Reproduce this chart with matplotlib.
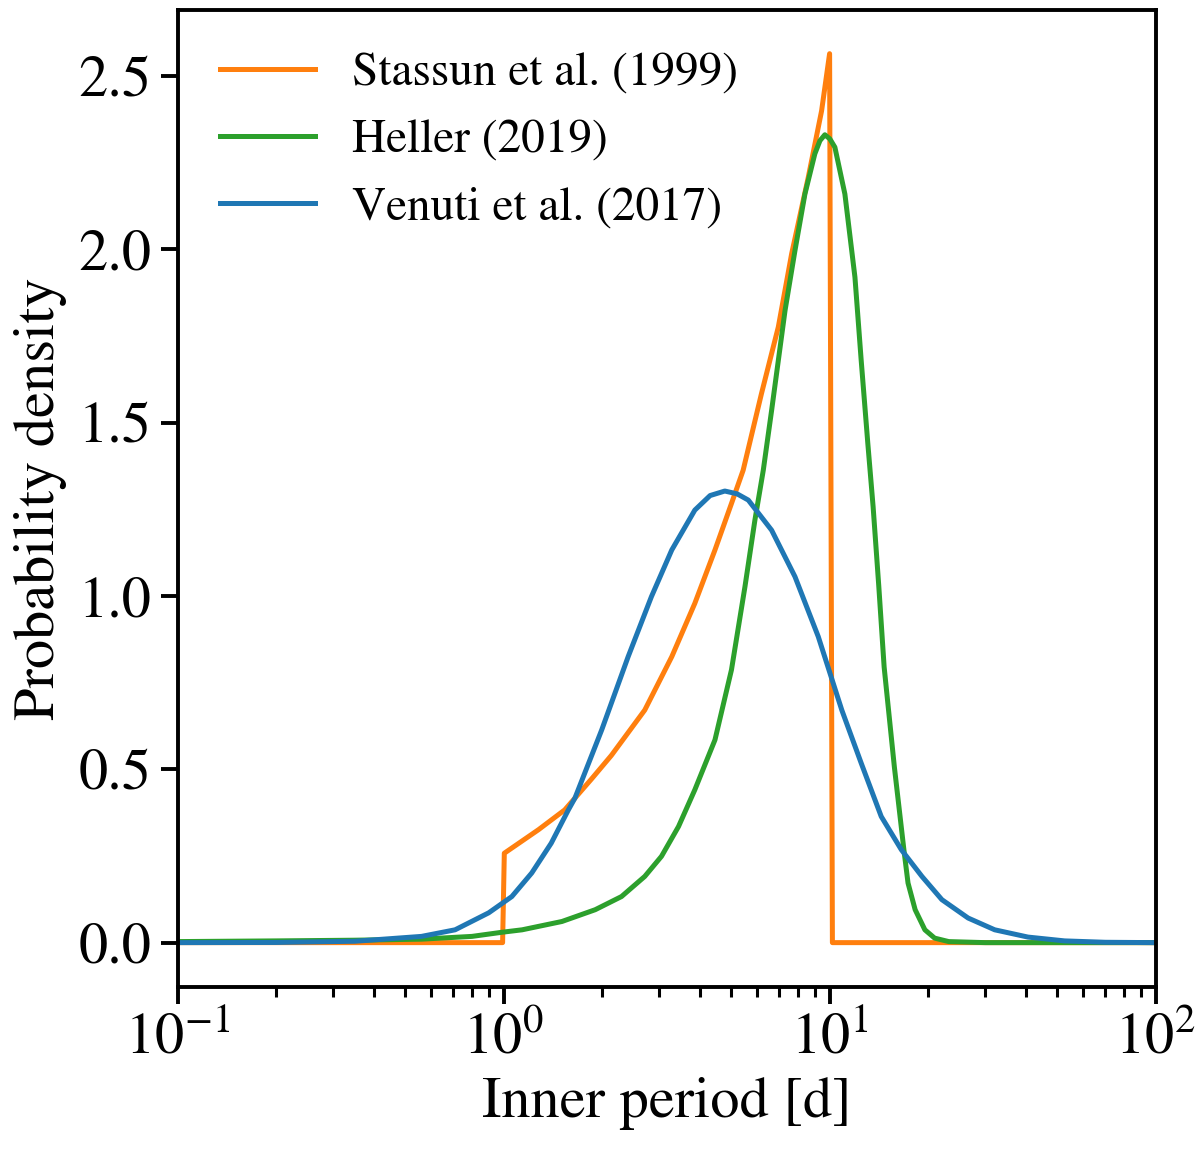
import matplotlib
matplotlib.use("Agg")
import matplotlib.pyplot as plt

plt.rcParams['font.family'] = ['STIXGeneral', 'DejaVu Serif']
plt.rcParams['mathtext.fontset'] = 'stix'

# Stassun et al. (1999)
stassun_p = [0.1, 0.993, 1.005, 1.28, 1.54, 1.655, 1.86, 2.14, 2.71, 3.28, 3.86,
             4.45, 5.0, 5.43, 6.18, 6.96, 7.65, 8.60, 9.45, 10.0, 10.2, 100.0]
stassun_y = [0.0, 0.0, 0.258, 0.326, 0.383, 0.417, 0.472, 0.540, 0.671, 0.825, 0.979,
             1.133, 1.267, 1.363, 1.584, 1.776, 1.988, 2.208, 2.40, 2.565, 0.0, 0.0]

# Heller (2019)
heller_p = [0.1, 0.2, 0.35, 0.56, 0.8, 0.99, 1.14, 1.51, 1.91, 2.30, 2.71, 3.05,
            3.44, 3.86, 4.45, 5.0, 5.5, 5.9, 6.26, 6.64, 7.30, 7.83, 8.40, 9.01,
            9.34, 9.67, 10.02, 10.38, 11.14, 11.96, 12.5, 13.1, 13.6, 14.15, 14.7,
            15.8, 16.9, 17.4, 18.3, 19.6, 21.0, 23.2, 30.0, 100.0]
heller_y = [0.003, 0.005, 0.007, 0.010, 0.018, 0.030, 0.037, 0.061, 0.095, 0.133,
            0.191, 0.249, 0.335, 0.441, 0.585, 0.787, 1.027, 1.219, 1.363, 1.536,
            1.824, 1.997, 2.160, 2.276, 2.314, 2.331, 2.319, 2.295, 2.160, 1.920,
            1.680, 1.440, 1.257, 1.03, 0.795, 0.507, 0.268, 0.172, 0.095, 0.037,
            0.013, 0.003, 0.0, 0.0]

# Venuti et al. (2017)
venuti_p = [0.1, 0.2, 0.35, 0.56, 0.71, 0.90, 1.06, 1.22, 1.40, 1.58, 1.655, 2.0,
            2.41, 2.84, 3.28, 3.86, 4.3, 4.77, 5.2, 5.63, 6.64, 7.83, 9.23, 10.9,
            12.5, 14.4, 16.6, 19.2, 22.1, 26.6, 32.1, 40.6, 52.6, 70.0, 100.0]
venuti_y = [0.0, 0.0005, 0.004, 0.018, 0.037, 0.086, 0.133, 0.201, 0.287, 0.383,
            0.417, 0.614, 0.825, 0.998, 1.133, 1.248, 1.290, 1.303, 1.295, 1.277,
            1.190, 1.056, 0.883, 0.671, 0.518, 0.364, 0.268, 0.191, 0.124, 0.071,
            0.037, 0.016, 0.005, 0.001, 0.0]

fig = plt.figure(figsize=(6, 5.745), dpi=200)
ax = fig.add_axes([0.148, 0.141, 0.815, 0.850])

ax.plot(stassun_p, stassun_y, color='tab:orange', lw=1.8, label='Stassun et al. (1999)')
ax.plot(heller_p, heller_y, color='tab:green', lw=1.8, label='Heller (2019)')
ax.plot(venuti_p, venuti_y, color='tab:blue', lw=1.8, label='Venuti et al. (2017)')

ax.set_xscale('log')
ax.set_xlim(0.1, 100)
ax.set_ylim(-0.128, 2.69)
ax.set_yticks([0.0, 0.5, 1.0, 1.5, 2.0, 2.5])

ax.set_xlabel('Inner period [d]', fontsize=21)
ax.set_ylabel('Probability density', fontsize=21)
ax.tick_params(which='major', labelsize=21, length=6, width=1.4)
ax.tick_params(which='minor', length=3.5, width=1.1)
for s in ax.spines.values():
    s.set_linewidth(1.4)

ax.legend(loc='upper left', frameon=False, fontsize=17)

fig.savefig('out.png', dpi=200)
